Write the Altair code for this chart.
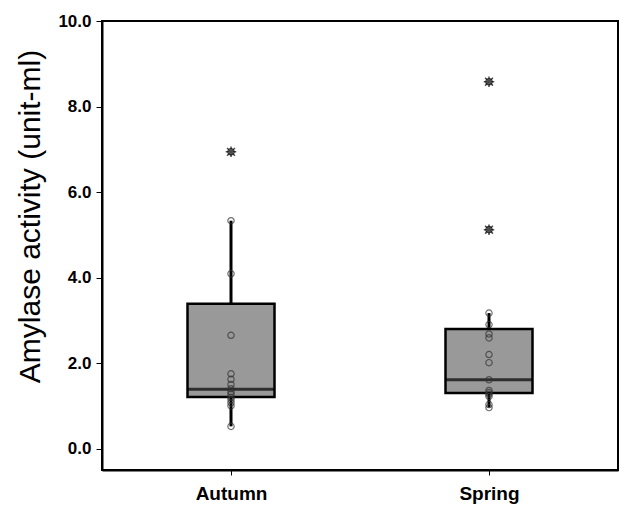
import altair as alt
import pandas as pd

seasons = ["Autumn", "Spring"]
q1 = [1.21, 1.30]
median = [1.39, 1.61]
q3 = [3.39, 2.80]
whisk_lo = [0.52, 0.96]
whisk_hi = [5.33, 3.17]

autumn_pts = [5.33, 4.09, 2.65, 1.75, 1.62, 1.50, 1.40, 1.33, 1.27, 1.20, 1.14, 1.07, 1.00, 0.52]
spring_pts = [3.17, 2.90, 2.68, 2.59, 2.20, 2.01, 1.61, 1.36, 1.31, 1.27, 1.22, 1.03, 0.96]
autumn_out = [6.94]
spring_out = [8.58, 5.12]

box_df = pd.DataFrame({"season": seasons, "q1": q1, "median": median, "q3": q3,
                       "lo": whisk_lo, "hi": whisk_hi})
pts_df = pd.DataFrame({"season": ["Autumn"] * len(autumn_pts) + ["Spring"] * len(spring_pts),
                       "value": autumn_pts + spring_pts})
out_df = pd.DataFrame({"season": ["Autumn"] * len(autumn_out) + ["Spring"] * len(spring_out),
                       "value": autumn_out + spring_out})

xenc = alt.X("season:N", sort=seasons, title=None,
             scale=alt.Scale(type="point", padding=0.5),
             axis=alt.Axis(labelAngle=0, labelFont="Liberation Sans", labelFontWeight="bold",
                           labelFontSize=19, labelColor="black", labelPadding=9,
                           tickColor="black", tickSize=5, tickWidth=1,
                           domainColor="black", domainWidth=2, grid=False))
yscale = alt.Scale(domain=[-0.5, 10], nice=False, zero=False)
yaxis = alt.Axis(values=[0, 2, 4, 6, 8, 10], format=".1f", title="Amylase activity (unit-ml)",
                 titleFont="Liberation Sans", titleFontSize=30, titleFontWeight="normal",
                 titleColor="black", titlePadding=12, titleY=195,
                 labelFont="Liberation Sans", labelFontWeight="bold", labelFontSize=17,
                 labelColor="black", labelPadding=5,
                 tickColor="black", tickSize=6, tickWidth=1,
                 domainColor="black", domainWidth=2, grid=False)

base = alt.Chart(box_df)
upper_wh = base.mark_rule(color="black", strokeWidth=3).encode(
    x=xenc, y=alt.Y("q3:Q", scale=yscale, axis=yaxis), y2="hi:Q")
lower_wh = base.mark_rule(color="black", strokeWidth=3).encode(
    x=xenc, y=alt.Y("lo:Q", scale=yscale, axis=yaxis), y2="q1:Q")
boxes = base.mark_bar(size=87, fill="#999999", stroke="black", strokeWidth=2.5).encode(
    x=xenc, y=alt.Y("q1:Q", scale=yscale, axis=yaxis), y2="q3:Q")
med = base.mark_tick(size=87, thickness=3, color="black", orient="horizontal").encode(
    x=xenc, y=alt.Y("median:Q", scale=yscale, axis=yaxis))

pts = alt.Chart(pts_df).mark_point(shape="circle", size=40, filled=False,
                                   stroke="#333333", strokeWidth=1.2).encode(
    x=xenc, y=alt.Y("value:Q", scale=yscale, axis=yaxis))

star_path = "M-1,0L1,0M0,-1L0,1M-0.75,-0.75L0.75,0.75M-0.75,0.75L0.75,-0.75"
out_c = alt.Chart(out_df).mark_point(shape="circle", size=40, filled=False,
                                     stroke="black", strokeWidth=1.3).encode(
    x=xenc, y=alt.Y("value:Q", scale=yscale, axis=yaxis))
out_s = alt.Chart(out_df).mark_point(shape=star_path, size=110, filled=False,
                                     stroke="black", strokeWidth=1.5).encode(
    x=xenc, y=alt.Y("value:Q", scale=yscale, axis=yaxis))

chart = alt.layer(upper_wh, lower_wh, boxes, med, pts, out_c, out_s).properties(
    width=516, height=449,
    padding={"left": 102, "top": 21, "right": 5, "bottom": 38},
    autosize=alt.AutoSizeParams(type="none"),
    background="white",
).configure_view(stroke="black", strokeWidth=2)

chart.save("out.html", embed_options={"renderer": "svg", "actions": False})
